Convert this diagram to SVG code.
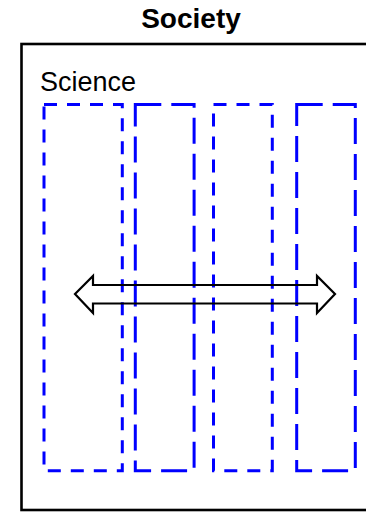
<svg xmlns="http://www.w3.org/2000/svg" width="366" height="512" viewBox="0 0 366 512">
<style>
.t{font-family:"Liberation Sans",Arial,sans-serif;fill:#000}
.col{fill:none;stroke:#0000FF;stroke-width:3}
.dash{stroke-dasharray:13 10}
.ldash{stroke-dasharray:26 10}
</style>
<rect width="366" height="512" fill="#fff"/>
<g id="society">
<text class="t" x="191" y="28" font-size="28" font-weight="bold" text-anchor="middle">Society</text>
<rect x="21.5" y="44" width="360" height="466" fill="none" stroke="#000" stroke-width="2.6"/>
</g>
<g id="science">
<text class="t" x="40" y="91" font-size="27">Science</text>
</g>
<g id="col1"><rect class="col dash" x="44" y="104.5" width="78.3" height="366.2"/></g>
<g id="col2"><rect class="col ldash" x="135.3" y="104.5" width="58.8" height="366.2"/></g>
<g id="col3"><rect class="col dash" x="213.5" y="104.5" width="58.8" height="366.2"/></g>
<g id="col4"><rect class="col ldash" x="296.7" y="104.5" width="58.6" height="366.2"/></g>
<g id="connectors">
<polygon points="75,294 93,276 93,285 317,285 317,276 335,294 317,313 317,303.5 93,303.5 93,313" fill="none" stroke="#000" stroke-width="2.2" stroke-linejoin="miter"/>
</g>
</svg>
